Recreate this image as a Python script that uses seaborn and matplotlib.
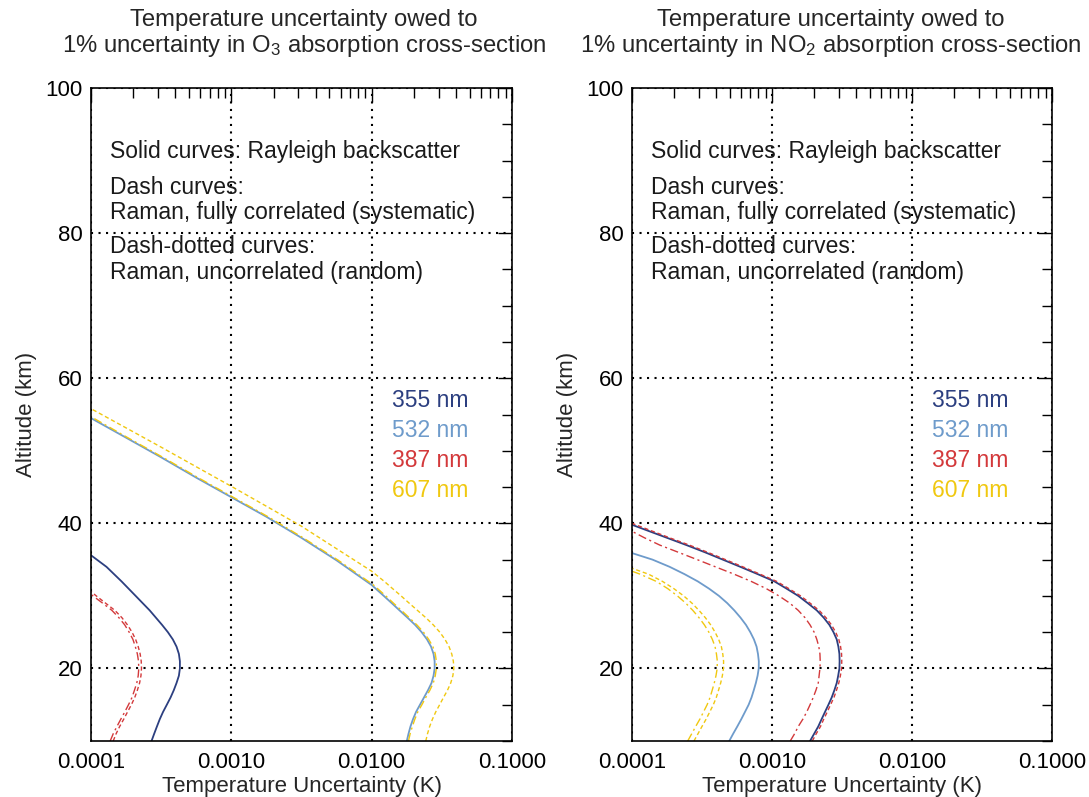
import numpy as np
import pandas as pd
import matplotlib
matplotlib.use("Agg")
import matplotlib.pyplot as plt
import matplotlib.ticker as mticker
import seaborn as sns

# ---------------- data ----------------
# Left panel: O3 cross-section
o3_355_alt = [10, 11, 12, 13, 14, 15, 16, 17, 18, 19, 20, 21, 22, 23, 24, 25, 26, 28, 30, 32, 34, 35.6]
o3_355_val = [0.00027, 0.000282, 0.000295, 0.000309, 0.000326, 0.000347, 0.000369, 0.000389,
              0.000407, 0.000423, 0.00043, 0.00043, 0.000423, 0.000407, 0.000383, 0.000353,
              0.000321, 0.000262, 0.000208, 0.000165, 0.000129, 0.0001]

o3_387_dash_alt = [10, 11, 12, 13, 14, 15, 16, 17, 18, 19, 20, 21, 22, 23, 24, 25, 26, 27, 28, 29, 30, 30.6]
o3_387_dash_val = [0.000144, 0.000151, 0.00016, 0.000171, 0.000182, 0.000194, 0.000205, 0.000214,
                   0.000222, 0.000227, 0.000229, 0.000228, 0.000224, 0.000217, 0.000208, 0.000196,
                   0.000182, 0.000166, 0.000148, 0.000127, 0.000109, 0.0001]
o3_387_dd_alt = [10, 11, 12, 13, 14, 15, 16, 17, 18, 19, 20, 21, 22, 23, 24, 25, 26, 27, 28, 29, 30.2]
o3_387_dd_val = [0.000137, 0.000144, 0.000153, 0.000163, 0.000174, 0.000185, 0.000196, 0.000204,
                 0.000212, 0.000217, 0.000219, 0.000218, 0.000214, 0.000207, 0.000199, 0.000187,
                 0.000174, 0.000158, 0.000141, 0.000121, 0.0001]

o3_532_alt = [10, 11, 12, 13, 14, 15, 16, 17, 18, 19, 20, 21, 22, 23, 24, 25, 26, 27, 28, 29, 30,
              31.5, 34.9, 38.0, 40.9, 43.6, 46.3, 49.1, 51.8, 54.5]
o3_532_val = [0.0178, 0.0183, 0.0189, 0.0197, 0.0207, 0.0221, 0.0236, 0.0252, 0.0267, 0.0276,
              0.0281, 0.0281, 0.0276, 0.0265, 0.0248, 0.0227, 0.0204, 0.018, 0.0158, 0.0139,
              0.0122, 0.01, 0.00562, 0.00316, 0.00178, 0.001, 0.000562, 0.000316, 0.000178, 0.0001]

o3_607_dash_alt = [10, 11, 12, 13, 14, 15, 16, 17, 18, 19, 20, 21, 22, 23, 24, 25, 26, 27, 28, 29,
                   30, 31, 32, 33.4, 36.5, 39.6, 42.35, 45.1, 47.8, 50.5, 53.15, 55.8]
o3_607_dash_val = [0.0243, 0.025, 0.0259, 0.0271, 0.0286, 0.0305, 0.0325, 0.0347, 0.0366, 0.0379,
                   0.0385, 0.0382, 0.0372, 0.0356, 0.0333, 0.0306, 0.0275, 0.0243, 0.0212, 0.0185,
                   0.0162, 0.0141, 0.0123, 0.01, 0.00562, 0.00316, 0.00178, 0.001, 0.000562,
                   0.000316, 0.000178, 0.0001]
o3_607_dd_alt = [10, 11, 12, 13, 14, 15, 16, 17, 18, 19, 20, 21, 22, 23, 24, 25, 26, 27, 28, 29, 30,
                 31.5, 34.9, 38.0, 40.9, 43.6, 46.3, 49.1, 51.8, 54.7]
o3_607_dd_val = [0.0183, 0.0188, 0.0195, 0.0203, 0.0213, 0.0228, 0.0243, 0.026, 0.0275, 0.0284,
                 0.0289, 0.0289, 0.0284, 0.0273, 0.0255, 0.0234, 0.021, 0.0185, 0.0163, 0.0143,
                 0.0126, 0.0103, 0.00579, 0.00325, 0.00183, 0.00103, 0.000579, 0.000325,
                 0.000183, 0.0001]

# Right panel: NO2 cross-section
no2_355_alt = [10, 11, 12, 13, 14, 15, 16, 17, 18, 19, 20, 21, 22, 23, 24, 25, 26, 27, 28, 29, 30,
               31, 32, 33, 34, 35, 36, 37, 38, 39.8]
no2_355_val = [0.00187, 0.002, 0.00214, 0.00226, 0.00239, 0.00253, 0.00267, 0.00279, 0.0029,
               0.00297, 0.00303, 0.00304, 0.00303, 0.00298, 0.0029, 0.00275, 0.00257, 0.00234,
               0.00209, 0.0018, 0.00154, 0.00127, 0.00104, 0.00079, 0.000595, 0.000445,
               0.000333, 0.000245, 0.000178, 0.0001]

no2_387_dash_alt = [10, 11, 12, 13, 14, 15, 16, 17, 18, 19, 20, 21, 22, 23, 24, 25, 26, 27, 28, 29,
                    30, 31, 32, 33, 34, 35, 36, 37, 38, 40]
no2_387_dash_val = [0.00194, 0.00207, 0.00222, 0.00234, 0.00248, 0.00262, 0.00277, 0.00289,
                    0.003, 0.00308, 0.00314, 0.00315, 0.00314, 0.00309, 0.003, 0.00285, 0.00266,
                    0.00243, 0.00217, 0.00187, 0.0016, 0.00132, 0.00108, 0.00082, 0.00062,
                    0.000465, 0.000348, 0.000257, 0.000186, 0.0001]
no2_387_dd_alt = [10, 11, 12, 13, 14, 15, 16, 17, 18, 19, 20, 21, 22, 23, 24, 25, 26, 27, 28, 29,
                  30, 31, 32, 33, 34, 35, 36, 37, 38, 38.9]
no2_387_dd_val = [0.00135, 0.00145, 0.00154, 0.00166, 0.00177, 0.00187, 0.00197, 0.00206,
                  0.00214, 0.00217, 0.0022, 0.00221, 0.0022, 0.00216, 0.00209, 0.002, 0.00187,
                  0.00172, 0.00154, 0.00134, 0.00112, 0.00091, 0.00071, 0.000535, 0.000395,
                  0.000292, 0.000215, 0.000158, 0.000123, 0.0001]

no2_532_alt = [10, 11, 12, 13, 14, 15, 16, 17, 18, 19, 20, 21, 22, 23, 24, 25, 26, 27, 28, 29, 30,
               31, 32, 33, 34, 35, 35.9]
no2_532_val = [0.000495, 0.000528, 0.000565, 0.000603, 0.000641, 0.000681, 0.000714, 0.000741,
               0.000767, 0.000789, 0.000804, 0.000805, 0.000794, 0.000776, 0.000743, 0.0007,
               0.000652, 0.000596, 0.000538, 0.000479, 0.000418, 0.000355, 0.000295, 0.000237,
               0.000186, 0.00014, 0.0001]

no2_607_dash_alt = [10, 11, 12, 13, 14, 15, 16, 17, 18, 19, 20, 21, 22, 23, 24, 25, 26, 27, 28, 29,
                    30, 31, 32, 33, 33.8]
no2_607_dash_val = [0.000277, 0.000296, 0.000316, 0.000338, 0.000359, 0.000381, 0.0004, 0.000415,
                    0.00043, 0.000442, 0.00045, 0.000451, 0.000445, 0.000435, 0.000416, 0.000392,
                    0.000365, 0.000334, 0.000301, 0.000268, 0.000234, 0.000199, 0.000165,
                    0.000131, 0.0001]
no2_607_dd_alt = [10, 11, 12, 13, 14, 15, 16, 17, 18, 19, 20, 21, 22, 23, 24, 25, 26, 27, 28, 29,
                  30, 31, 32, 33, 33.4]
no2_607_dd_val = [0.00025, 0.000267, 0.000285, 0.000305, 0.000324, 0.000344, 0.000361, 0.000374,
                  0.000387, 0.000398, 0.000406, 0.000407, 0.000401, 0.000392, 0.000375, 0.000354,
                  0.000329, 0.000301, 0.000272, 0.000242, 0.000211, 0.00018, 0.000149,
                  0.000114, 0.0001]

wavelengths = ["355 nm", "532 nm", "387 nm", "607 nm"]
titles = ["Temperature uncertainty owed to\n1% uncertainty in O$_\\mathregular{3}$ absorption cross-section",
          "Temperature uncertainty owed to\n1% uncertainty in NO$_\\mathregular{2}$ absorption cross-section"]
notes = ["Solid curves: Rayleigh backscatter", "Dash curves:",
         "Raman, fully correlated (systematic)", "Dash-dotted curves:",
         "Raman, uncorrelated (random)"]
xtick_vals = [0.0001, 0.001, 0.01, 0.1]
xtick_labels = ["0.0001", "0.0010", "0.0100", "0.1000"]
ytick_vals = [20, 40, 60, 80, 100]

# ---------------- styling ----------------
sns.set_style("white")
plt.rcParams["font.family"] = ["Liberation Sans", "DejaVu Sans"]
plt.rcParams["mathtext.fontset"] = "custom"
plt.rcParams["mathtext.rm"] = "Liberation Sans"
plt.rcParams["mathtext.it"] = "Liberation Sans:italic"
plt.rcParams["mathtext.bf"] = "Liberation Sans:bold"

colors = {"355 nm": "#2c3f80", "532 nm": "#6e9bcb", "387 nm": "#d3393b", "607 nm": "#f0c810"}
SOLID = "-"
DASH = (0, (3, 2))
DASHDOT = (0, (6, 2.5, 1.5, 2.5))

panels = [
    [("355 nm", o3_355_alt, o3_355_val, SOLID, 1.3),
     ("387 nm", o3_387_dash_alt, o3_387_dash_val, DASH, 1.0),
     ("387 nm", o3_387_dd_alt, o3_387_dd_val, DASHDOT, 1.0),
     ("532 nm", o3_532_alt, o3_532_val, SOLID, 1.3),
     ("607 nm", o3_607_dash_alt, o3_607_dash_val, DASH, 1.0),
     ("607 nm", o3_607_dd_alt, o3_607_dd_val, DASHDOT, 1.0)],
    [("532 nm", no2_532_alt, no2_532_val, SOLID, 1.3),
     ("607 nm", no2_607_dash_alt, no2_607_dash_val, DASH, 1.0),
     ("607 nm", no2_607_dd_alt, no2_607_dd_val, DASHDOT, 1.0),
     ("355 nm", no2_355_alt, no2_355_val, SOLID, 1.3),
     ("387 nm", no2_387_dash_alt, no2_387_dash_val, DASH, 1.0),
     ("387 nm", no2_387_dd_alt, no2_387_dd_val, DASHDOT, 1.0)],
]

W, H = 1089, 797
fig = plt.figure(figsize=(W / 100, H / 100), dpi=100)
ax_rects = [[91 / W, 56 / H, 421 / W, 653 / H],
            [632 / W, 56 / H, 420 / W, 653 / H]]
title_x = [304 / W, 831 / W]

note_y = [0.902, 0.848, 0.810, 0.757, 0.718]
legend_y = [0.522, 0.475, 0.429, 0.383]

for i, rect in enumerate(ax_rects):
    ax = fig.add_axes(rect)
    for name, alt, val, ls, lw in panels[i]:
        df = pd.DataFrame({"x": val, "y": alt})
        sns.lineplot(data=df, x="x", y="y", sort=False, estimator=None, ax=ax,
                     color=colors[name], linestyle=ls, linewidth=lw)
    ax.set_xscale("log")
    ax.set_xlim(0.0001, 0.1)
    ax.set_ylim(10, 100)
    ax.set_xticks(xtick_vals)
    ax.set_xticklabels(xtick_labels)
    ax.xaxis.set_minor_locator(mticker.LogLocator(base=10, subs=np.arange(2, 10), numticks=20))
    ax.xaxis.set_minor_formatter(mticker.NullFormatter())
    ax.set_yticks(ytick_vals)
    ax.yaxis.set_minor_locator(mticker.MultipleLocator(5))
    ax.tick_params(which="both", direction="in", top=True, right=True, colors="black",
                   labelsize=16, width=1.0)
    ax.tick_params(axis="x", which="both", pad=8)
    ax.tick_params(axis="y", which="both", pad=6)
    ax.tick_params(which="major", length=10)
    ax.tick_params(which="minor", length=7)
    for s in ax.spines.values():
        s.set_linewidth(1.2)
        s.set_color("black")
    ax.grid(True, which="major", color="black", linestyle=(0, (1, 2.6)), linewidth=1.5)
    ax.set_xlabel("Temperature Uncertainty (K)", fontsize=16, labelpad=2)
    ax.set_ylabel("Altitude (km)", fontsize=16, labelpad=6)
    fig.text(title_x[i], 1 - 34 / H, titles[i], fontsize=17.2, ha="center", va="center",
             linespacing=1.1)
    for t, yy in zip(notes, note_y):
        ax.text(0.045, yy, t, transform=ax.transAxes, fontsize=16.5, va="center", ha="left",
                color="#1a1a1a")
    for w, yy in zip(wavelengths, legend_y):
        ax.text(0.715, yy, w, transform=ax.transAxes, fontsize=16.5, va="center", ha="left",
                color=colors[w])

fig.savefig("out.png", dpi=100)
